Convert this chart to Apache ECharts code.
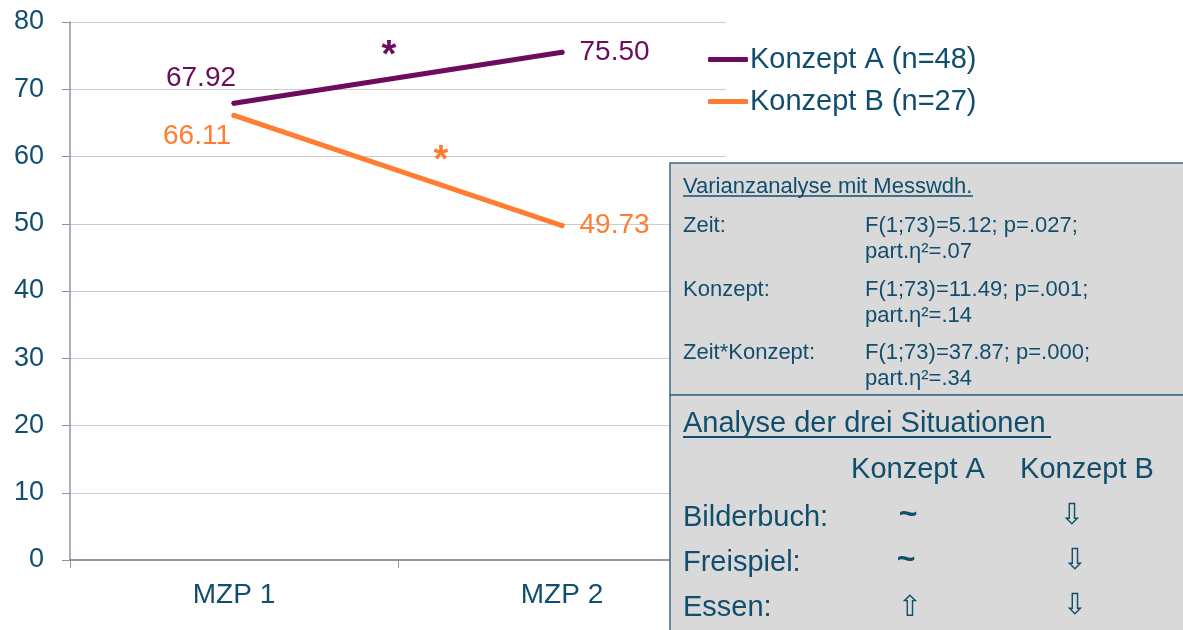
<!DOCTYPE html>
<html><head><meta charset="utf-8">
<script src="https://cdn.jsdelivr.net/npm/echarts@6/dist/echarts.min.js"></script>
<style>html,body{margin:0;padding:0;background:#fff}#c{width:1183px;height:630px}</style>
</head><body><div id="c"></div>
<script>
var categories = ['MZP 1', 'MZP 2'];
var seriesNames = ['Konzept A (n=48)', 'Konzept B (n=27)'];
var konzeptA = [67.92, 75.50];
var konzeptB = [66.11, 49.73];
var yTicks = [0, 10, 20, 30, 40, 50, 60, 70, 80];

var FONT = '"Liberation Sans", Arial, sans-serif';
var TXT = '#114e6d';
var PURPLE = '#6b0d5c';
var ORANGE = '#ff7c30';
var AXIS = '#8a96a3';

var chart = echarts.init(document.getElementById('c'));

function t(x, y, text, size, extra) {
  var s = { text: text, fill: TXT, font: size + 'px ' + FONT, textVerticalAlign: 'middle' };
  if (extra) for (var k in extra) s[k] = extra[k];
  return { type: 'text', x: x, y: y, z: 20, style: s };
}
var ARW = '29px "DejaVu Sans", sans-serif';
var TIL = 'bold 32px ' + FONT;

var graphics = [
  { type: 'rect', z: 10, shape: { x: 670, y: 163, width: 530, height: 232 },
    style: { fill: '#d9d9d9', stroke: '#3a6886', lineWidth: 1.5 } },
  { type: 'rect', z: 10, shape: { x: 670, y: 395, width: 530, height: 250 },
    style: { fill: '#d9d9d9', stroke: '#3a6886', lineWidth: 1.5 } },
  t(683, 187, 'Varianzanalyse mit Messwdh.', 22),
  { type: 'line', z: 20, shape: { x1: 683, y1: 196, x2: 973, y2: 196 }, style: { stroke: TXT, lineWidth: 1.5 } },
  t(683, 226, 'Zeit:', 22),
  t(865, 226, 'F(1;73)=5.12; p=.027;', 22),
  t(865, 252, 'part.η²=.07', 22),
  t(683, 290, 'Konzept:', 22),
  t(865, 290, 'F(1;73)=11.49; p=.001;', 22),
  t(865, 316, 'part.η²=.14', 22),
  t(683, 353, 'Zeit*Konzept:', 22),
  t(865, 353, 'F(1;73)=37.87; p=.000;', 22),
  t(865, 379, 'part.η²=.34', 22),
  t(683, 424, 'Analyse der drei Situationen', 29),
  { type: 'line', z: 20, shape: { x1: 683, y1: 437, x2: 1051, y2: 437 }, style: { stroke: TXT, lineWidth: 2 } },
  t(918, 470, 'Konzept A', 29, { textAlign: 'center' }),
  t(1087, 470, 'Konzept B', 29, { textAlign: 'center' }),
  t(683, 518, 'Bilderbuch:', 29),
  t(683, 563, 'Freispiel:', 29),
  t(683, 608, 'Essen:', 29),
  t(908, 515, '~', 32, { textAlign: 'center', font: TIL }),
  t(906, 560, '~', 32, { textAlign: 'center', font: TIL }),
  t(910, 608, '⇧', 29, { textAlign: 'center', font: ARW }),
  t(1072, 516, '⇩', 29, { textAlign: 'center', font: ARW }),
  t(1075, 561, '⇩', 29, { textAlign: 'center', font: ARW }),
  t(1075, 606, '⇩', 29, { textAlign: 'center', font: ARW }),
  t(389, 57, '*', 38, { textAlign: 'center', fill: PURPLE, font: 'bold 38px ' + FONT }),
  t(441, 162, '*', 38, { textAlign: 'center', fill: ORANGE, font: 'bold 38px ' + FONT })
];

chart.setOption({
  animation: false,
  textStyle: { fontFamily: FONT },
  grid: { left: 70, right: 457, top: 22, bottom: 70 },
  legend: {
    orient: 'vertical', left: 708, top: 45, padding: 0,
    itemWidth: 40, itemHeight: 5, itemGap: 13, icon: 'roundRect',
    textStyle: { fontSize: 29, color: TXT, fontFamily: FONT, padding: [0, 0, 0, -3] },
    data: seriesNames
  },
  xAxis: {
    type: 'category', data: categories, boundaryGap: true,
    axisLine: { lineStyle: { color: AXIS, width: 2 } },
    axisTick: { show: true, length: 8, lineStyle: { color: AXIS, width: 1 } },
    axisLabel: { color: TXT, fontSize: 28, margin: 21, fontFamily: FONT },
    splitLine: { show: false }
  },
  yAxis: {
    type: 'value', min: yTicks[0], max: yTicks[yTicks.length - 1], interval: 10,
    axisLine: { show: true, lineStyle: { color: AXIS, width: 1.5 } },
    axisTick: { show: true, length: 8, lineStyle: { color: AXIS } },
    axisLabel: { color: TXT, fontSize: 27, margin: 26, fontFamily: FONT },
    splitLine: { lineStyle: { color: '#cccccc', width: 1 } }
  },
  series: [
    {
      name: seriesNames[0], type: 'line',
      symbol: 'circle', symbolSize: 5, itemStyle: { color: PURPLE },
      lineStyle: { color: PURPLE, width: 5, cap: 'round' },
      label: {
        show: true, fontSize: 28, color: PURPLE, fontFamily: FONT,
        formatter: function (p) { return p.value.toFixed(2); }
      },
      data: [
        { value: konzeptA[0], label: { position: 'top', offset: [-33, -3] } },
        { value: konzeptA[1], label: { position: 'right', distance: 15 } }
      ]
    },
    {
      name: seriesNames[1], type: 'line',
      symbol: 'circle', symbolSize: 5, itemStyle: { color: ORANGE },
      lineStyle: { color: ORANGE, width: 5, cap: 'round' },
      label: {
        show: true, fontSize: 28, color: ORANGE, fontFamily: FONT,
        formatter: function (p) { return p.value.toFixed(2); }
      },
      data: [
        { value: konzeptB[0], label: { position: 'bottom', offset: [-37, -1] } },
        { value: konzeptB[1], label: { position: 'right', distance: 15 } }
      ]
    }
  ],
  graphic: graphics
});
</script></body></html>
